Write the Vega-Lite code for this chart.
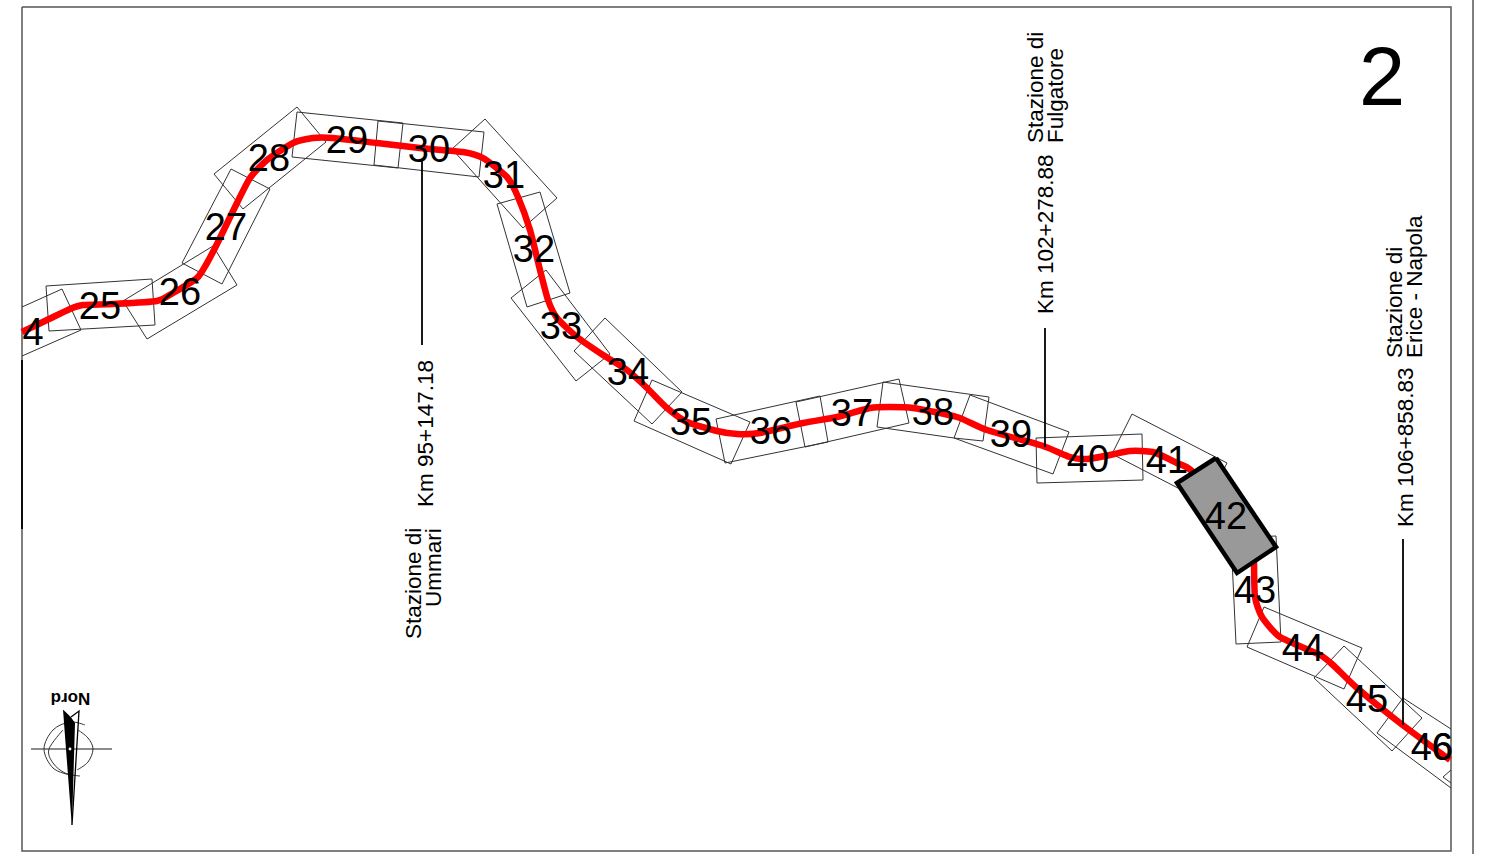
{"$schema":"https://vega.github.io/schema/vega-lite/v6.json","width":1485,"height":854,"autosize":"none","padding":0,"background":"white","config":{"view":{"stroke":null}},
"encoding":{"x":{"field":"x","type":"quantitative","axis":null,"scale":{"domain":[0,1485],"nice":false,"zero":false}},"y":{"field":"y","type":"quantitative","axis":null,"scale":{"domain":[0,854],"reverse":true,"nice":false,"zero":false}}},
"layer":[
{"data":{"values":[
{"id":"f","i":0,"x":22,"y":7},{"id":"f","i":1,"x":1451,"y":7},{"id":"f","i":2,"x":1451,"y":851},{"id":"f","i":3,"x":22,"y":851},{"id":"f","i":4,"x":22,"y":7},
{"id":"r","i":0,"x":1473,"y":0},{"id":"r","i":1,"x":1473,"y":854}]},
"mark":{"type":"line","stroke":"#555555","strokeWidth":1.5},"encoding":{"detail":{"field":"id"},"order":{"field":"i"}}},
{"data":{"values":[
{"id":"24","i":0,"x":22,"y":307},{"id":"24","i":1,"x":62,"y":289},{"id":"24","i":2,"x":81,"y":330},{"id":"24","i":3,"x":22,"y":356},
{"id":"25","i":0,"x":46,"y":286},{"id":"25","i":1,"x":152,"y":279},{"id":"25","i":2,"x":155,"y":325},{"id":"25","i":3,"x":49,"y":331},{"id":"25","i":4,"x":46,"y":286},
{"id":"26","i":0,"x":123,"y":301},{"id":"26","i":1,"x":213,"y":246},{"id":"26","i":2,"x":237,"y":285},{"id":"26","i":3,"x":147,"y":339},{"id":"26","i":4,"x":123,"y":301},
{"id":"27","i":0,"x":231,"y":169},{"id":"27","i":1,"x":270,"y":189},{"id":"27","i":2,"x":222,"y":284},{"id":"27","i":3,"x":182,"y":263},{"id":"27","i":4,"x":231,"y":169},
{"id":"28","i":0,"x":214,"y":174},{"id":"28","i":1,"x":297,"y":107},{"id":"28","i":2,"x":326,"y":142},{"id":"28","i":3,"x":243,"y":209},{"id":"28","i":4,"x":214,"y":174},
{"id":"29","i":0,"x":297,"y":112},{"id":"29","i":1,"x":403,"y":123},{"id":"29","i":2,"x":398,"y":168},{"id":"29","i":3,"x":292,"y":157},{"id":"29","i":4,"x":297,"y":112},
{"id":"30","i":0,"x":378,"y":121},{"id":"30","i":1,"x":484,"y":132},{"id":"30","i":2,"x":479,"y":177},{"id":"30","i":3,"x":374,"y":165},{"id":"30","i":4,"x":378,"y":121},
{"id":"31","i":0,"x":485,"y":119},{"id":"31","i":1,"x":557,"y":198},{"id":"31","i":2,"x":523,"y":228},{"id":"31","i":3,"x":452,"y":149},{"id":"31","i":4,"x":485,"y":119},
{"id":"32","i":0,"x":540,"y":192},{"id":"32","i":1,"x":570,"y":293},{"id":"32","i":2,"x":527,"y":307},{"id":"32","i":3,"x":497,"y":204},{"id":"32","i":4,"x":540,"y":192},
{"id":"33","i":0,"x":511,"y":298},{"id":"33","i":1,"x":546,"y":270},{"id":"33","i":2,"x":610,"y":354},{"id":"33","i":3,"x":576,"y":381},{"id":"33","i":4,"x":511,"y":298},
{"id":"34","i":0,"x":605,"y":318},{"id":"34","i":1,"x":682,"y":392},{"id":"34","i":2,"x":652,"y":424},{"id":"34","i":3,"x":574,"y":351},{"id":"34","i":4,"x":605,"y":318},
{"id":"35","i":0,"x":652,"y":380},{"id":"35","i":1,"x":750,"y":422},{"id":"35","i":2,"x":731,"y":464},{"id":"35","i":3,"x":634,"y":421},{"id":"35","i":4,"x":652,"y":380},
{"id":"36","i":0,"x":716,"y":419},{"id":"36","i":1,"x":820,"y":396},{"id":"36","i":2,"x":828,"y":442},{"id":"36","i":3,"x":725,"y":463},{"id":"36","i":4,"x":716,"y":419},
{"id":"37","i":0,"x":796,"y":402},{"id":"37","i":1,"x":899,"y":379},{"id":"37","i":2,"x":909,"y":423},{"id":"37","i":3,"x":805,"y":447},{"id":"37","i":4,"x":796,"y":402},
{"id":"38","i":0,"x":883,"y":382},{"id":"38","i":1,"x":989,"y":397},{"id":"38","i":2,"x":983,"y":441},{"id":"38","i":3,"x":954,"y":438},{"id":"38","i":4,"x":877,"y":427},{"id":"38","i":5,"x":883,"y":382},
{"id":"39","i":0,"x":970,"y":395},{"id":"39","i":1,"x":1069,"y":432},{"id":"39","i":2,"x":1053,"y":474},{"id":"39","i":3,"x":954,"y":438},{"id":"39","i":4,"x":970,"y":395},
{"id":"40","i":0,"x":1036,"y":438},{"id":"40","i":1,"x":1142,"y":434},{"id":"40","i":2,"x":1143,"y":480},{"id":"40","i":3,"x":1037,"y":483},{"id":"40","i":4,"x":1036,"y":438},
{"id":"41","i":0,"x":1112,"y":454},{"id":"41","i":1,"x":1132,"y":414},{"id":"41","i":2,"x":1227,"y":463},{"id":"41","i":3,"x":1207,"y":503},{"id":"41","i":4,"x":1112,"y":454},
{"id":"43","i":0,"x":1231,"y":538},{"id":"43","i":1,"x":1276,"y":536},{"id":"43","i":2,"x":1281,"y":642},{"id":"43","i":3,"x":1236,"y":644},{"id":"43","i":4,"x":1231,"y":538},
{"id":"44","i":0,"x":1264,"y":607},{"id":"44","i":1,"x":1362,"y":648},{"id":"44","i":2,"x":1344,"y":689},{"id":"44","i":3,"x":1247,"y":647},{"id":"44","i":4,"x":1264,"y":607},
{"id":"45","i":0,"x":1344,"y":646},{"id":"45","i":1,"x":1422,"y":718},{"id":"45","i":2,"x":1392,"y":751},{"id":"45","i":3,"x":1314,"y":678},{"id":"45","i":4,"x":1344,"y":646},
{"id":"46","i":0,"x":1451,"y":729},{"id":"46","i":1,"x":1403,"y":698},{"id":"46","i":2,"x":1377,"y":733},{"id":"46","i":3,"x":1451,"y":788},
{"id":"47","i":0,"x":1451,"y":770},{"id":"47","i":1,"x":1443,"y":777},{"id":"47","i":2,"x":1451,"y":783}]},
"mark":{"type":"line","stroke":"#333333","strokeWidth":1},"encoding":{"detail":{"field":"id"},"order":{"field":"i"}}},
{"data":{"values":[
{"i":1,"x":22,"y":332},{"i":2,"x":47,"y":320},{"i":3,"x":70,"y":309},{"i":4,"x":83,"y":305},{"i":5,"x":113,"y":304},{"i":6,"x":157,"y":301},{"i":7,"x":173,"y":293},{"i":8,"x":197,"y":278},{"i":9,"x":207,"y":263},{"i":10,"x":218,"y":242},{"i":11,"x":235,"y":207},{"i":12,"x":250,"y":178},{"i":13,"x":267,"y":160},{"i":14,"x":293,"y":143},{"i":15,"x":313,"y":138},{"i":16,"x":333,"y":138},{"i":17,"x":377,"y":143},{"i":18,"x":420,"y":148},{"i":19,"x":463,"y":152},{"i":20,"x":483,"y":158},{"i":21,"x":507,"y":177},{"i":22,"x":518,"y":197},{"i":23,"x":530,"y":230},{"i":24,"x":540,"y":270},{"i":25,"x":548,"y":300},{"i":26,"x":557,"y":318},{"i":27,"x":577,"y":337},{"i":28,"x":603,"y":355},{"i":29,"x":627,"y":370},{"i":30,"x":647,"y":388},{"i":31,"x":667,"y":408},{"i":32,"x":687,"y":422},{"i":33,"x":717,"y":431},{"i":34,"x":737,"y":434},{"i":35,"x":760,"y":433},{"i":36,"x":803,"y":423},{"i":37,"x":837,"y":417},{"i":38,"x":870,"y":408},{"i":39,"x":890,"y":407},{"i":40,"x":913,"y":408},{"i":41,"x":957,"y":417},{"i":42,"x":987,"y":430},{"i":43,"x":1043,"y":446},{"i":44,"x":1070,"y":457},{"i":45,"x":1087,"y":459},{"i":46,"x":1110,"y":455},{"i":47,"x":1130,"y":451},{"i":48,"x":1153,"y":452},{"i":49,"x":1177,"y":463},{"i":50,"x":1193,"y":472},{"i":51,"x":1254,"y":540},{"i":52,"x":1254,"y":562},{"i":53,"x":1255,"y":597},{"i":54,"x":1262,"y":617},{"i":55,"x":1280,"y":637},{"i":56,"x":1320,"y":655},{"i":57,"x":1333,"y":665},{"i":58,"x":1357,"y":688},{"i":59,"x":1400,"y":723},{"i":60,"x":1450,"y":760}]},
"mark":{"type":"line","stroke":"#ff0000","strokeWidth":6.5,"interpolate":"cardinal","tension":0.4,"strokeCap":"butt","strokeJoin":"round"},"encoding":{"order":{"field":"i"}}},
{"data":{"values":[{"x":1177,"y":483,"y2":483},{"x":1216,"y":458,"y2":541.5},{"x":1237,"y":489,"y2":573},{"x":1276,"y":547,"y2":547}]},
"mark":{"type":"area","fill":"#999999","opacity":1},"encoding":{"y2":{"field":"y2"}}},
{"data":{"values":[{"i":0,"x":1216,"y":458},{"i":1,"x":1276,"y":547},{"i":2,"x":1237,"y":573},{"i":3,"x":1177,"y":483},{"i":4,"x":1216,"y":458}]},
"mark":{"type":"line","stroke":"#000000","strokeWidth":4.5,"strokeJoin":"miter"},"encoding":{"order":{"field":"i"}}},
{"data":{"values":[
{"id":"a","i":0,"x":422,"y":160},{"id":"a","i":1,"x":422,"y":345},
{"id":"b","i":0,"x":1045,"y":328},{"id":"b","i":1,"x":1045,"y":447},
{"id":"c","i":0,"x":1403,"y":539},{"id":"c","i":1,"x":1403,"y":725},
{"id":"d","i":0,"x":22,"y":360},{"id":"d","i":1,"x":22,"y":529}]},
"mark":{"type":"line","stroke":"#000000","strokeWidth":1.8},"encoding":{"detail":{"field":"id"},"order":{"field":"i"}}},
{"data":{"values":[
{"t":"4","x":33,"y":332},{"t":"25","x":100,"y":306},{"t":"26","x":180,"y":292},{"t":"27","x":226,"y":227},{"t":"28","x":269,"y":158},{"t":"29","x":347,"y":140},{"t":"30","x":429,"y":149},{"t":"31","x":504,"y":175},{"t":"32","x":534,"y":249},{"t":"33","x":561,"y":326},{"t":"34","x":628,"y":372},{"t":"35","x":691,"y":422},{"t":"36","x":771,"y":431},{"t":"37","x":852,"y":413},{"t":"38","x":933,"y":412},{"t":"39","x":1011,"y":434},{"t":"40","x":1088,"y":459},{"t":"41","x":1167,"y":460},{"t":"42","x":1226,"y":516},{"t":"43","x":1255,"y":590},{"t":"44","x":1303,"y":648},{"t":"45","x":1367,"y":699},{"t":"46","x":1432,"y":747},{"t":"6","x":1442,"y":747}]},
"mark":{"type":"text","font":"Liberation Sans","fontSize":38,"align":"center","baseline":"middle","dy":2,"fill":"#000000"},"encoding":{"text":{"field":"t"}}},
{"data":{"values":[{"t":"2","x":1382,"y":105}]},
"mark":{"type":"text","font":"Liberation Sans","fontSize":83,"align":"center","baseline":"alphabetic","fill":"#000000"},"encoding":{"text":{"field":"t"}}},
{"data":{"values":[
{"t":"Km 95+147.18","x":433,"y":507},{"t":"Stazione di","x":421,"y":639},{"t":"Ummari","x":441,"y":607},
{"t":"Km 102+278.88","x":1053,"y":314},{"t":"Stazione di","x":1043,"y":143},{"t":"Fulgatore","x":1063,"y":143},
{"t":"Km 106+858.83","x":1413,"y":527},{"t":"Stazione di","x":1402,"y":358},{"t":"Erice - Napola","x":1422,"y":358}]},
"mark":{"type":"text","font":"Liberation Sans","fontSize":22.5,"angle":270,"align":"left","baseline":"alphabetic","fill":"#000000"},"encoding":{"text":{"field":"t"}}},
{"data":{"values":[{"t":"Nord","x":70.5,"y":693}]},
"mark":{"type":"text","font":"Liberation Sans","fontWeight":"bold","fontSize":17,"angle":180,"align":"center","baseline":"alphabetic","fill":"#000000"},"encoding":{"text":{"field":"t"}}},
{"data":{"values":[{"id":"h","i":0,"x":31,"y":749},{"id":"h","i":1,"x":112,"y":749}]},
"mark":{"type":"line","stroke":"#666666","strokeWidth":1.3},"encoding":{"detail":{"field":"id"},"order":{"field":"i"}}},
{"data":{"values":[
{"id":"o","i":0,"x":85,"y":725},{"id":"o","i":1,"x":70,"y":722},{"id":"o","i":2,"x":53,"y":730},{"id":"o","i":3,"x":44,"y":749},{"id":"o","i":4,"x":53,"y":768},{"id":"o","i":5,"x":70,"y":775},
{"id":"n","i":0,"x":63,"y":730},{"id":"n","i":1,"x":49,"y":749},{"id":"n","i":2,"x":53,"y":763},{"id":"n","i":3,"x":65,"y":773},{"id":"n","i":4,"x":80,"y":776},
{"id":"m","i":0,"x":78,"y":730},{"id":"m","i":1,"x":88,"y":738},{"id":"m","i":2,"x":93,"y":749},{"id":"m","i":3,"x":88,"y":762},{"id":"m","i":4,"x":77,"y":770}]},
"mark":{"type":"line","stroke":"#333333","strokeWidth":1,"interpolate":"cardinal"},"encoding":{"detail":{"field":"id"},"order":{"field":"i"}}},
{"data":{"values":[{"y":710,"x":63,"x2":63.5},{"y":717,"x":63.6,"x2":70.7},{"y":723,"x":64,"x2":75},{"y":825,"x":71.8,"x2":72}]},
"mark":{"type":"area","orient":"horizontal","fill":"#000000","opacity":1},"encoding":{"x2":{"field":"x2"}}},
{"data":{"values":[{"i":0,"x":71,"y":717},{"i":1,"x":79,"y":711},{"i":2,"x":72,"y":825}]},
"mark":{"type":"line","stroke":"#000000","strokeWidth":1.3},"encoding":{"order":{"field":"i"}}},
{"data":{"values":[{"x":70,"y":749}]},
"mark":{"type":"point","shape":"circle","size":8,"filled":true,"fill":"#ffffff","opacity":1}}
]}
